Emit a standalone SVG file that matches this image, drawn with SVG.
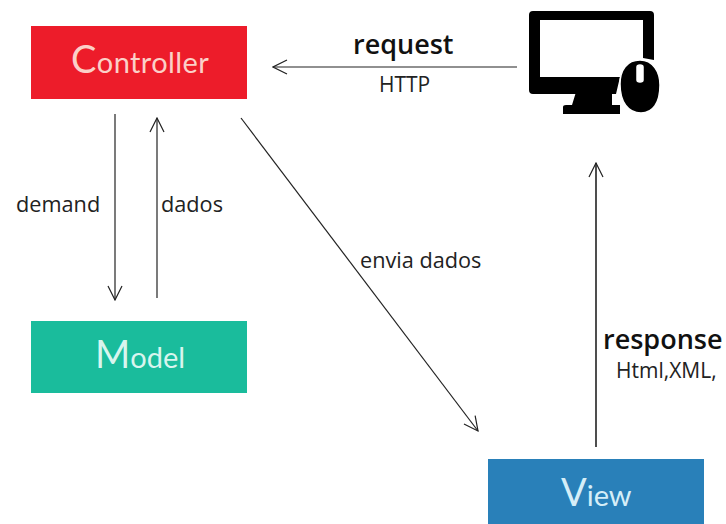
<svg xmlns="http://www.w3.org/2000/svg" width="726" height="524" viewBox="0 0 726 524">
<style>
.c{fill:none;stroke:#222;stroke-width:1.2}
.n{font-family:"Lato","Noto Sans",sans-serif;font-size:29px;font-weight:400}
.big{font-size:38px}
.l{font-family:"Open Sans","Noto Sans",sans-serif;font-size:21.7px;fill:#222}
.b{font-family:"Open Sans","Noto Sans",sans-serif;font-size:27px;font-weight:600;fill:#111}
.s{font-family:"Open Sans","Noto Sans",sans-serif;font-size:21px;fill:#222}
</style>
<defs>
<marker id="a" viewBox="-16 -8 17 16" refX="0" refY="0" markerWidth="17" markerHeight="16" markerUnits="userSpaceOnUse" orient="auto">
<path d="M-14-7L0 0L-14 7" fill="none" stroke="#222" stroke-width="1.2"/>
</marker>
</defs>
<rect width="726" height="524" fill="#fff"/>
<g id="connectors">
<path class="c" d="M517 67H273" marker-end="url(#a)"/>
<path class="c" d="M115 114V300" marker-end="url(#a)"/>
<path class="c" d="M157 298V118" marker-end="url(#a)"/>
<path class="c" d="M241 118L478 431" marker-end="url(#a)"/>
<path class="c" d="M596 447V163" marker-end="url(#a)" style="stroke-width:1.6"/>
</g>
<g id="controller">
<rect x="31" y="26" width="216" height="73" fill="#ed1c2a"/>
<text class="n" x="71" y="73" fill="#fbd0c8" letter-spacing="0.4"><tspan class="big">C</tspan>ontroller</text>
</g>
<g id="model">
<rect x="31" y="321" width="216" height="72" fill="#1abc9c"/>
<text class="n" x="95" y="368" fill="#d8f5ee"><tspan class="big">M</tspan>odel</text>
</g>
<g id="view">
<rect x="488" y="459" width="216" height="65" fill="#2980b9"/>
<text class="n" x="561" y="506" fill="#d5eef8"><tspan class="big">V</tspan>iew</text>
</g>
<g id="computer">
<path fill-rule="evenodd" d="M533 11H650Q654 11 654 15V60L643 58V20H540V77H620L616 94H533Q529 94 529 90V15Q529 11 533 11Z"/>
<path d="M576 92H612V105H620V114H563V107Q563 105 566 105H572Z"/>
<path fill-rule="evenodd" stroke="#fff" stroke-width="1.5" d="M640 60C653 60 660 72 660 85C660 103 653 113 641 113C628 113 620 102 620 84C620 70 627 60 640 60ZM637 67V80Q637 82 640 82Q643 82 643 80V67Q643 65 640 65Q637 65 637 67Z"/>
</g>
<g id="labels">
<text class="b" x="353" y="54">request</text>
<text class="s" x="379" y="92">HTTP</text>
<text class="l" x="16" y="212">demand</text>
<text class="l" x="161" y="212">dados</text>
<text class="l" x="360" y="268">envia dados</text>
<text class="b" x="603" y="349">response</text>
<text class="s" x="616" y="378">Html,XML,</text>
</g>
</svg>
